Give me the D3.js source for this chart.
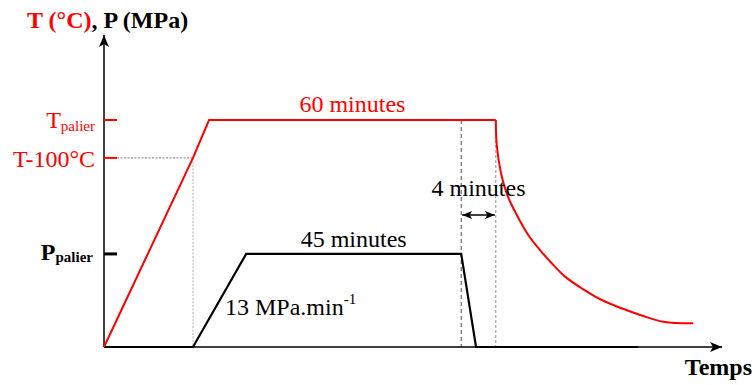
<!DOCTYPE html>
<html>
<head>
<meta charset="utf-8">
<script src="https://cdn.jsdelivr.net/npm/d3@7"></script>
<style>
  html, body { margin: 0; padding: 0; background: #fff; }
  svg text { font-family: "Liberation Serif", "Times New Roman", Times, serif; }
</style>
</head>
<body>
<main></main>
<script>
// Dimensions
const w = 755;
const h = 385;

// Temperature cycle (arbitrary time units, T in % of T palier)
const tempsChauffe = [0, 14.4, 17, 63.4];
const valeursChauffe = [0, 83.3, 100, 100];

// Cooling curve
const tempsRefroid = [63.4, 63.55, 64.2, 65.25, 66.8, 68.65, 70.55, 72.45, 74.6, 77.3, 80.55, 83.75, 87.25, 90.5, 95.35];
const valeursRefroid = [100, 89.0, 77.2, 67.0, 58.15, 49.35, 42.7, 36.9, 31.0, 25.85, 20.7, 17.05, 13.65, 11.15, 10.45];

// Pressure cycle
const tempsPression = [0, 14.4, 23, 57.8, 60.2, 86.4];
const valeursPression = [0, 0, 41, 41, 0, 0];

// Y ticks
const ticksT = [100, 83.3];
const labelsT = ['T', 'T-100°C'];
const ticksP = [41];

const rouge = '#ff0000';
const police = '"Liberation Serif", "Times New Roman", serif';

var svg = d3.select('main')
    .append('svg')
    .attr('width', w)
    .attr('height', h)
    .style('display', 'block');

// Scales
const x = d3.scaleLinear().domain([0, 100]).range([104, 722]);
const y = d3.scaleLinear().domain([0, 100]).range([347, 120]);

// Arrow markers
const defs = svg.append('defs');
defs.append('marker')
    .attr('id', 'fleche')
    .attr('viewBox', '0 0 12 10')
    .attr('refX', 12).attr('refY', 5)
    .attr('markerWidth', 12).attr('markerHeight', 10)
    .attr('markerUnits', 'userSpaceOnUse')
    .attr('orient', 'auto-start-reverse')
    .append('path')
    .attr('d', 'M0,0 L12,5 L0,10 L3,5 Z')
    .attr('fill', 'black');

defs.append('marker')
    .attr('id', 'petite')
    .attr('viewBox', '0 0 10 8')
    .attr('refX', 10).attr('refY', 4)
    .attr('markerWidth', 10).attr('markerHeight', 8)
    .attr('markerUnits', 'userSpaceOnUse')
    .attr('orient', 'auto-start-reverse')
    .append('path')
    .attr('d', 'M0,0 L10,4 L0,8 L2.5,4 Z')
    .attr('fill', 'black');

// Guide lines (dotted)
const tRampe = tempsChauffe[1];
svg.append('line')
    .attr('x1', x(0) + 13).attr('x2', x(tRampe))
    .attr('y1', y(ticksT[1])).attr('y2', y(ticksT[1]))
    .attr('stroke', '#555').attr('stroke-width', 0.8).attr('stroke-dasharray', '2,1.5');
svg.append('line')
    .attr('x1', x(tRampe)).attr('x2', x(tRampe))
    .attr('y1', y(ticksT[1])).attr('y2', y(0))
    .attr('stroke', '#999').attr('stroke-width', 0.8).attr('stroke-dasharray', '2,1.5');

// Vertical dashed lines (end of pressure, end of temperature plateau)
svg.append('line')
    .attr('x1', x(tempsPression[3])).attr('x2', x(tempsPression[3]))
    .attr('y1', y(100)).attr('y2', y(0))
    .attr('stroke', '#222').attr('stroke-width', 0.8).attr('stroke-dasharray', '4,3');
svg.append('line')
    .attr('x1', x(tempsChauffe[3])).attr('x2', x(tempsChauffe[3]))
    .attr('y1', y(100)).attr('y2', y(0))
    .attr('stroke', '#777').attr('stroke-width', 0.8).attr('stroke-dasharray', '3,2');

// Axes
svg.append('line')
    .attr('x1', x(0)).attr('y1', y(0))
    .attr('x2', x(0)).attr('y2', y(137.4))
    .attr('stroke', 'black').attr('stroke-width', 1.5)
    .attr('marker-end', 'url(#fleche)');
svg.append('line')
    .attr('x1', x(0)).attr('y1', y(0))
    .attr('x2', x(100)).attr('y2', y(0))
    .attr('stroke', 'black').attr('stroke-width', 1.5)
    .attr('marker-end', 'url(#fleche)');

// Ticks
svg.selectAll('.tickT')
    .data(ticksT)
    .enter()
    .append('line')
    .attr('x1', x(0)).attr('x2', x(0) + 13)
    .attr('y1', (d) => y(d)).attr('y2', (d) => y(d))
    .attr('stroke', rouge).attr('stroke-width', 2);
svg.selectAll('.tickP')
    .data(ticksP)
    .enter()
    .append('line')
    .attr('x1', x(0)).attr('x2', x(0) + 13)
    .attr('y1', (d) => y(d)).attr('y2', (d) => y(d))
    .attr('stroke', 'black').attr('stroke-width', 3);

// Lines
const ligne = d3.line().x((d) => x(d[0])).y((d) => y(d[1]));
const ligneCourbe = d3.line().x((d) => x(d[0])).y((d) => y(d[1])).curve(d3.curveCatmullRom.alpha(0.5));

svg.append('path')
    .attr('d', ligne(d3.zip(tempsPression, valeursPression)))
    .attr('fill', 'none').attr('stroke', 'black').attr('stroke-width', 2.2)
    .attr('stroke-linejoin', 'miter');

svg.append('path')
    .attr('d', ligne(d3.zip(tempsChauffe, valeursChauffe)))
    .attr('fill', 'none').attr('stroke', rouge).attr('stroke-width', 2);

svg.append('path')
    .attr('d', ligneCourbe(d3.zip(tempsRefroid, valeursRefroid)))
    .attr('fill', 'none').attr('stroke', rouge).attr('stroke-width', 2);

// 4 minutes double arrow
svg.append('line')
    .attr('x1', x(tempsPression[3]) + 1).attr('x2', x(tempsChauffe[3]) - 1)
    .attr('y1', 215).attr('y2', 215)
    .attr('stroke', 'black').attr('stroke-width', 1.3)
    .attr('marker-start', 'url(#petite)')
    .attr('marker-end', 'url(#petite)');

// Texts
function texte(px, py, taille, couleur) {
    return svg.append('text')
        .attr('x', px).attr('y', py)
        .attr('font-family', police)
        .attr('font-size', taille)
        .attr('fill', couleur);
}

const title = texte(27, 28, 24, 'black').attr('font-weight', 'bold');
title.append('tspan').attr('fill', rouge).text('T (°C)');
title.append('tspan').attr('fill', 'black').text(', P (MPa)');

const tp = texte(95, y(ticksT[0]) + 8, 24, rouge).attr('text-anchor', 'end');
tp.append('tspan').text(labelsT[0]);
tp.append('tspan').attr('font-size', 15).attr('dy', 3).text('palier');

texte(95, y(ticksT[1]) + 9, 24, rouge).attr('text-anchor', 'end')
    .text(labelsT[1]);

const pp = texte(93, y(ticksP[0]) + 6, 24, 'black')
    .attr('text-anchor', 'end').attr('font-weight', 'bold');
pp.append('tspan').text('P');
pp.append('tspan').attr('font-size', 15).attr('dy', 2).text('palier');

texte(x((tempsChauffe[2] + tempsChauffe[3]) / 2), y(100) - 8, 24, rouge)
    .attr('text-anchor', 'middle')
    .text('60 minutes');

texte(x((tempsPression[2] + tempsPression[3]) / 2), y(valeursPression[2]) - 7, 24, 'black')
    .attr('text-anchor', 'middle')
    .text('45 minutes');

texte(x((tempsPression[3] + tempsChauffe[3]) / 2), 196, 24, 'black')
    .attr('text-anchor', 'middle')
    .text('4 minutes');

const mpa = texte(225, 315, 24, 'black');
mpa.append('tspan').text('13 MPa.min');
mpa.append('tspan').attr('font-size', 15).attr('dy', -11).text('-1');

texte(752, 375, 24, 'black')
    .attr('text-anchor', 'end').attr('font-weight', 'bold')
    .text('Temps');
</script>
</body>
</html>
